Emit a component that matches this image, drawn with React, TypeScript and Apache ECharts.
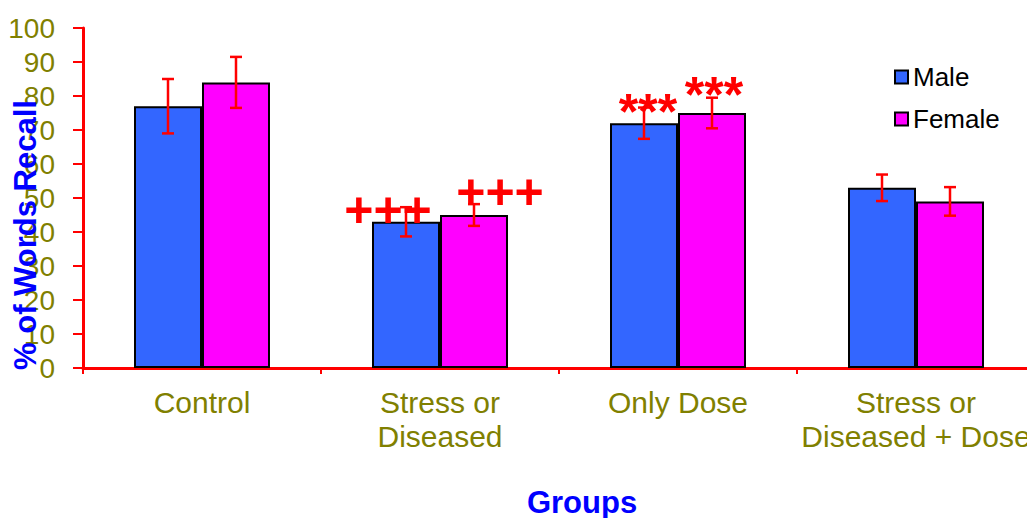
import React, { useEffect, useRef } from "react";
import * as echarts from "echarts";

const categories = ["Control", "Stress or\nDiseased", "Only Dose", "Stress or\nDiseased + Dose"];
const seriesNames = ["Male", "Female"];
const maleValues = [77, 43, 72, 53];
const femaleValues = [84, 45, 75, 49];
const maleErrors = [8, 4.3, 4.6, 3.9];
const femaleErrors = [7.5, 3.2, 4.5, 4.2];
const maleMarks = ["", "+++", "***", ""];
const femaleMarks = ["", "+++", "***", ""];
const yTicks = [0, 10, 20, 30, 40, 50, 60, 70, 80, 90, 100];

const FONT = "'Liberation Sans', Arial, sans-serif";
const OLIVE = "#808000";
const BAR_RATIO = 0.2857;

const markOffsets: Record<string, number[][]> = {
  Male: [[0, 0], [-18, 13], [4, 14], [0, 0]],
  Female: [[0, 0], [26, 2], [2, 7], [0, 0]],
};

function barData(values: number[], marks: string[], name: string) {
  return values.map((v, i) => {
    if (!marks[i]) return { value: v };
    return {
      value: v,
      label: {
        show: true,
        position: "top",
        distance: 0,
        formatter: marks[i],
        color: "#ff0000",
        fontSize: 50,
        fontWeight: "bold",
        fontFamily: FONT,
        lineHeight: 50,
        offset: markOffsets[name][i],
      },
    };
  });
}

function errorSeries(name: string, values: number[], errors: number[], side: number) {
  return {
    type: "custom",
    name: name + " error",
    z: 5,
    encode: { x: 0, y: 1 },
    data: values.map((v, i) => [i, v, errors[i]]),
    renderItem: (params: any, api: any) => {
      const idx = api.value(0);
      const v = api.value(1);
      const e = api.value(2);
      const barW = api.size([1, 0])[0] * BAR_RATIO;
      const top = api.coord([idx, v + e]);
      const bot = api.coord([idx, v - e]);
      const x = top[0] + (side * barW) / 2;
      const cap = 6;
      const style = { stroke: "#ff0000", lineWidth: 2.5, fill: "none" };
      return {
        type: "group",
        children: [
          { type: "line", shape: { x1: x, y1: top[1], x2: x, y2: bot[1] }, style },
          { type: "line", shape: { x1: x - cap, y1: top[1], x2: x + cap, y2: top[1] }, style },
          { type: "line", shape: { x1: x - cap, y1: bot[1], x2: x + cap, y2: bot[1] }, style },
        ],
      };
    },
  };
}

export default function App() {
  const ref = useRef<HTMLDivElement>(null);
  useEffect(() => {
    if (!ref.current) return;
    const chart = echarts.init(ref.current, undefined, { renderer: "svg" });
    chart.setOption({
      animation: false,
      backgroundColor: "#ffffff",
      grid: { left: 83, top: 28, right: 0, bottom: 150, containLabel: false },
      legend: {
        data: seriesNames,
        orient: "vertical",
        left: 889,
        top: 59,
        itemWidth: 13,
        itemHeight: 13,
        itemGap: 16,
        icon: "rect",
        textStyle: { color: "#000", fontSize: 26, fontFamily: FONT },
      },
      xAxis: {
        type: "category",
        data: categories,
        axisLine: { lineStyle: { color: "#ff0000", width: 3 } },
        axisTick: { show: true, length: 6, lineStyle: { color: "#ff0000", width: 2 } },
        axisLabel: {
          interval: 0,
          color: OLIVE,
          fontSize: 30,
          fontFamily: FONT,
          lineHeight: 34,
          margin: 17,
        },
        splitLine: { show: false },
      },
      yAxis: {
        type: "value",
        min: yTicks[0],
        max: yTicks[yTicks.length - 1],
        interval: 10,
        axisLine: { show: true, lineStyle: { color: "#ff0000", width: 3 } },
        axisTick: { show: true, length: 10, lineStyle: { color: "#ff0000", width: 2 } },
        axisLabel: { color: OLIVE, fontSize: 28, fontFamily: FONT, margin: 28 },
        splitLine: { show: false },
      },
      graphic: [
        {
          type: "text",
          x: 25,
          y: 235,
          rotation: Math.PI / 2,
          style: {
            text: "% of Words Recall",
            fill: "#0000ff",
            font: "bold 31px " + FONT,
            align: "center",
            verticalAlign: "middle",
          },
          z: 10,
        },
        {
          type: "text",
          x: 582,
          y: 502,
          style: {
            text: "Groups",
            fill: "#0000ff",
            font: "bold 31px " + FONT,
            align: "center",
            verticalAlign: "middle",
          },
        },
      ],
      series: [
        {
          type: "bar",
          name: "Male",
          data: barData(maleValues, maleMarks, "Male"),
          barWidth: BAR_RATIO * 100 + "%",
          barGap: "0%",
          itemStyle: { color: "#3366ff", borderColor: "#000", borderWidth: 2 },
        },
        {
          type: "bar",
          name: "Female",
          data: barData(femaleValues, femaleMarks, "Female"),
          barWidth: BAR_RATIO * 100 + "%",
          barGap: "0%",
          itemStyle: { color: "#ff00ff", borderColor: "#000", borderWidth: 2 },
        },
        errorSeries("Male", maleValues, maleErrors, -1),
        errorSeries("Female", femaleValues, femaleErrors, 1),
      ],
    });
    return () => chart.dispose();
  }, []);
  return (
    <div
      style={{
        position: "fixed",
        left: 0,
        top: 0,
        width: 1027,
        height: 518,
        overflow: "hidden",
        background: "#fff",
      }}
    >
      <div ref={ref} style={{ width: 1035, height: 518 }} />
    </div>
  );
}
